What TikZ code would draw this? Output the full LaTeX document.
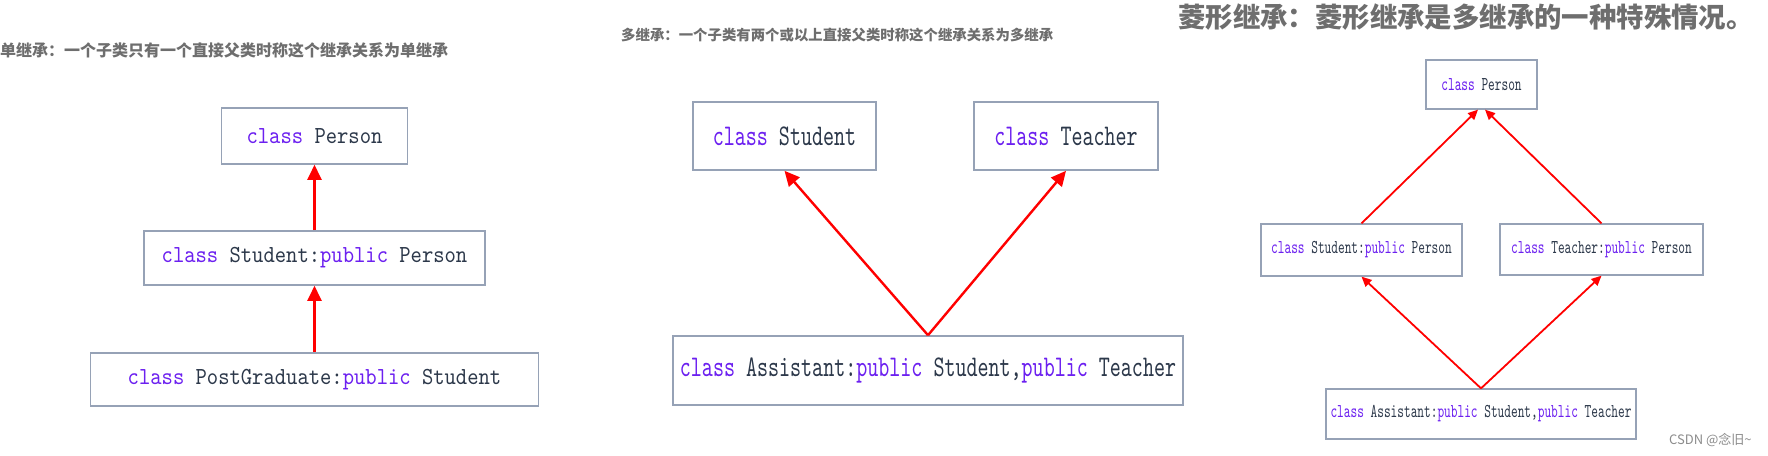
\documentclass[tikz,border=0pt]{standalone}
\usepackage{fontspec}
\usetikzlibrary{arrows.meta}
\newfontfamily\cjk{Noto Sans CJK SC}
\newfontfamily\codeA{lmmono10-regular.otf}[FakeStretch=0.88]
\newfontfamily\codeB{lmmono10-regular.otf}[FakeStretch=0.70]
\newfontfamily\codeC{lmmono10-regular.otf}[FakeStretch=0.65]
\definecolor{kw}{RGB}{108,32,240}
\definecolor{txt}{RGB}{44,56,74}
\definecolor{boxc}{RGB}{150,162,182}
\definecolor{ttl}{RGB}{110,110,110}
\definecolor{arr}{RGB}{255,0,0}
\newcommand{\kw}[1]{\textcolor{kw}{#1}}
\tikzset{
  cls/.style={draw=boxc, fill=white, inner sep=0pt, text=txt, align=center},
  clsA/.style={cls, line width=1.6pt, font=\codeA\fontsize{24.5}{26}\selectfont},
  clsB/.style={cls, line width=1.6pt, font=\codeB\fontsize{30}{32}\selectfont},
  clsC/.style={cls, line width=1.3pt, font=\codeC\fontsize{19.6}{21}\selectfont},
  inh/.style={draw=arr, line width=2.4pt, -{Triangle[length=15pt,width=14pt]}},
  inhs/.style={draw=arr, line width=1.8pt, -{Triangle[length=10pt,width=9pt]}},
  ttlA/.style={anchor=west, inner sep=0pt, text=ttl, font=\cjk\bfseries\fontsize{16}{17}\selectfont},
  ttlB/.style={anchor=west, inner sep=0pt, text=ttl, font=\cjk\bfseries\fontsize{14.4}{16}\selectfont},
  ttlC/.style={anchor=west, inner sep=0pt, text=ttl, font=\cjk\bfseries\fontsize{27.4}{29}\selectfont},
  wmark/.style={anchor=west, inner sep=0pt, text=black!45, font=\cjk\fontsize{13}{14}\selectfont}
}
\begin{document}
\begin{tikzpicture}[x=1pt,y=-1pt]
\fill[white] (0,0) rectangle (1768,455);
\useasboundingbox (0,0) rectangle (1768,455);
% titles
\node[ttlA] (t1) at (0,50) {单继承：一个子类只有一个直接父类时称这个继承关系为单继承};
\node[ttlB] (t2) at (621,35) {多继承：一个子类有两个或以上直接父类时称这个继承关系为多继承};
\node[ttlC] (t3) at (1178,17) {菱形继承：菱形继承是多继承的一种特殊情况。};
\node[wmark] (csdn) at (1669,440) {CSDN @念旧\textasciitilde};
% panel 1
\node[clsA, minimum width=186pt, minimum height=56pt] (p1a) at (314.5,136) {\kw{class} Person};
\node[clsA, minimum width=341pt, minimum height=54pt] (p1b) at (314.5,258) {\kw{class} Student:\kw{public} Person};
\node[clsA, minimum width=448pt, minimum height=53pt] (p1c) at (314.5,379.5) {\kw{class} PostGraduate:\kw{public} Student};
\draw[inh] (p1b.north) -- (p1a.south);
\draw[inh] (p1c.north) -- (p1b.south);
% panel 2
\node[clsB, minimum width=183pt, minimum height=68pt] (p2a) at (784.5,136) {\kw{class} Student};
\node[clsB, minimum width=184pt, minimum height=68pt] (p2b) at (1066,136) {\kw{class} Teacher};
\node[clsB, minimum width=510pt, minimum height=69pt] (p2c) at (928,370.5) {\kw{class} Assistant:\kw{public} Student,\kw{public} Teacher};
\draw[inh] (p2c.north) -- (p2a.south);
\draw[inh] (p2c.north) -- (p2b.south);
% panel 3
\node[clsC, minimum width=111pt, minimum height=49pt] (p3a) at (1481.5,84.5) {\kw{class} Person};
\node[clsC, minimum width=201pt, minimum height=52pt] (p3b) at (1361.5,250) {\kw{class} Student:\kw{public} Person};
\node[clsC, minimum width=203pt, minimum height=51pt] (p3c) at (1601.5,249.5) {\kw{class} Teacher:\kw{public} Person};
\node[clsC, minimum width=310pt, minimum height=50pt] (p3d) at (1481,414) {\kw{class} Assistant:\kw{public} Student,\kw{public} Teacher};
\draw[inhs] (p3b.north) -- ([xshift=-3.5pt]p3a.south);
\draw[inhs] (p3c.north) -- ([xshift=3.5pt]p3a.south);
\draw[inhs] (p3d.north) -- (p3b.south);
\draw[inhs] (p3d.north) -- (p3c.south);
\end{tikzpicture}
\end{document}
